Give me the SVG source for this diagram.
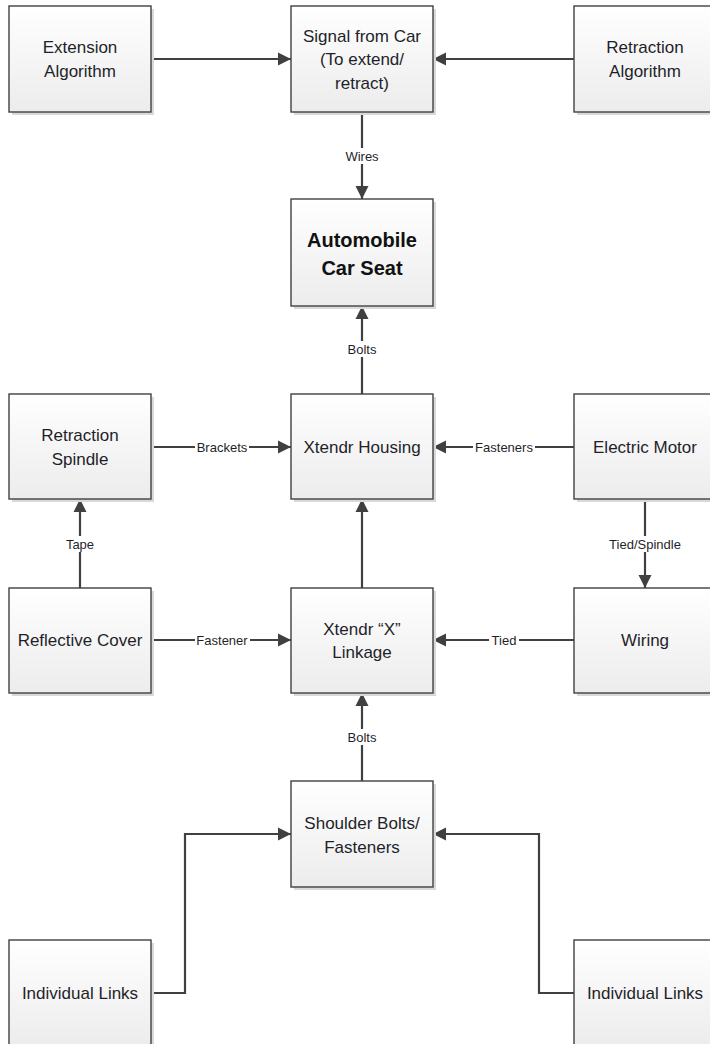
<svg xmlns="http://www.w3.org/2000/svg" width="710" height="1044" viewBox="0 0 710 1044">
<defs>
<linearGradient id="g" x1="0" y1="0" x2="0" y2="1">
<stop offset="0" stop-color="#ffffff"/>
<stop offset="1" stop-color="#ececec"/>
</linearGradient>
<marker id="ah" markerUnits="userSpaceOnUse" markerWidth="14" markerHeight="14" viewBox="0 0 14 14" refX="13" refY="7" orient="auto">
<path d="M0,0.5 L13,7 L0,13.5 z" fill="#404040"/>
</marker>
</defs>
<style>
.sh{fill:#d9d9d9;}
.bx{fill:url(#g);stroke:#404040;stroke-width:1.4;}
.t{font-family:"Liberation Sans",Arial,sans-serif;font-size:17px;fill:#1f1f2a;text-anchor:middle;}
.b{font-weight:bold;font-size:20px;fill:#111;}
.c{fill:none;stroke:#404040;stroke-width:2.2;}
.a{marker-end:url(#ah);}
.lb{fill:#ffffff;}
.lt{font-family:"Liberation Sans",Arial,sans-serif;font-size:13px;fill:#1f1f2a;text-anchor:middle;}
</style>
<rect width="710" height="1044" fill="#ffffff"/>

<g id="connectors">
<path class="c a" d="M151,59 H291"/>
<path class="c a" d="M574,59 H433"/>
<path class="c a" d="M362,112 V199"/>
<path class="c a" d="M362,394 V306"/>
<path class="c a" d="M151,447 H291"/>
<path class="c a" d="M574,447 H433"/>
<path class="c a" d="M645,499 V588"/>
<path class="c a" d="M80,588 V499"/>
<path class="c a" d="M151,640 H291"/>
<path class="c a" d="M574,640 H433"/>
<path class="c a" d="M362,588 V499"/>
<path class="c a" d="M362,781 V693"/>
<path class="c a" d="M151,993 H185 V834 H291"/>
<path class="c a" d="M574,993 H539 V834 H433"/>
<g id="labels">
<rect class="lb" x="343" y="148" width="38" height="16"/>
<text class="lt" x="362" y="161">Wires</text>
<rect class="lb" x="346" y="341" width="32" height="16"/>
<text class="lt" x="362" y="354">Bolts</text>
<rect class="lb" x="195" y="439" width="54" height="16"/>
<text class="lt" x="222" y="452">Brackets</text>
<rect class="lb" x="473" y="439" width="62" height="16"/>
<text class="lt" x="504" y="452">Fasteners</text>
<rect class="lb" x="607" y="536" width="76" height="16"/>
<text class="lt" x="645" y="549">Tied/Spindle</text>
<rect class="lb" x="64" y="536" width="32" height="16"/>
<text class="lt" x="80" y="549">Tape</text>
<rect class="lb" x="195" y="632" width="55" height="16"/>
<text class="lt" x="222" y="645">Fastener</text>
<rect class="lb" x="489" y="632" width="30" height="16"/>
<text class="lt" x="504" y="645">Tied</text>
<rect class="lb" x="346" y="729" width="32" height="16"/>
<text class="lt" x="362" y="742">Bolts</text>
</g>
</g>

<g id="n-ext">
<rect class="sh" x="12" y="9" width="142" height="106"/>
<rect class="bx" x="9" y="6" width="142" height="106"/>
<text class="t" x="80" y="53">Extension</text>
<text class="t" x="80" y="77">Algorithm</text>
</g>
<g id="n-signal">
<rect class="sh" x="294" y="9" width="142" height="106"/>
<rect class="bx" x="291" y="6" width="142" height="106"/>
<text class="t" x="362" y="42">Signal from Car</text>
<text class="t" x="362" y="65">(To extend/</text>
<text class="t" x="362" y="89">retract)</text>
</g>
<g id="n-retalg">
<rect class="sh" x="577" y="9" width="142" height="106"/>
<rect class="bx" x="574" y="6" width="142" height="106"/>
<text class="t" x="645" y="53">Retraction</text>
<text class="t" x="645" y="77">Algorithm</text>
</g>
<g id="n-seat">
<rect class="sh" x="294" y="202" width="142" height="107"/>
<rect class="bx" x="291" y="199" width="142" height="107"/>
<text class="t b" x="362" y="247">Automobile</text>
<text class="t b" x="362" y="275">Car Seat</text>
</g>
<g id="n-spindle">
<rect class="sh" x="12" y="397" width="142" height="105"/>
<rect class="bx" x="9" y="394" width="142" height="105"/>
<text class="t" x="80" y="441">Retraction</text>
<text class="t" x="80" y="465">Spindle</text>
</g>
<g id="n-housing">
<rect class="sh" x="294" y="397" width="142" height="105"/>
<rect class="bx" x="291" y="394" width="142" height="105"/>
<text class="t" x="362" y="453">Xtendr Housing</text>
</g>
<g id="n-motor">
<rect class="sh" x="577" y="397" width="142" height="105"/>
<rect class="bx" x="574" y="394" width="142" height="105"/>
<text class="t" x="645" y="453">Electric Motor</text>
</g>
<g id="n-cover">
<rect class="sh" x="12" y="591" width="142" height="105"/>
<rect class="bx" x="9" y="588" width="142" height="105"/>
<text class="t" x="80" y="646">Reflective Cover</text>
</g>
<g id="n-linkage">
<rect class="sh" x="294" y="591" width="142" height="105"/>
<rect class="bx" x="291" y="588" width="142" height="105"/>
<text class="t" x="362" y="635">Xtendr “X”</text>
<text class="t" x="362" y="658">Linkage</text>
</g>
<g id="n-wiring">
<rect class="sh" x="577" y="591" width="142" height="105"/>
<rect class="bx" x="574" y="588" width="142" height="105"/>
<text class="t" x="645" y="646">Wiring</text>
</g>
<g id="n-shoulder">
<rect class="sh" x="294" y="784" width="142" height="106"/>
<rect class="bx" x="291" y="781" width="142" height="106"/>
<text class="t" x="362" y="829">Shoulder Bolts/</text>
<text class="t" x="362" y="853">Fasteners</text>
</g>
<g id="n-links-l">
<rect class="sh" x="12" y="943" width="142" height="106"/>
<rect class="bx" x="9" y="940" width="142" height="106"/>
<text class="t" x="80" y="999">Individual Links</text>
</g>
<g id="n-links-r">
<rect class="sh" x="577" y="943" width="142" height="106"/>
<rect class="bx" x="574" y="940" width="142" height="106"/>
<text class="t" x="645" y="999">Individual Links</text>
</g>
</svg>
